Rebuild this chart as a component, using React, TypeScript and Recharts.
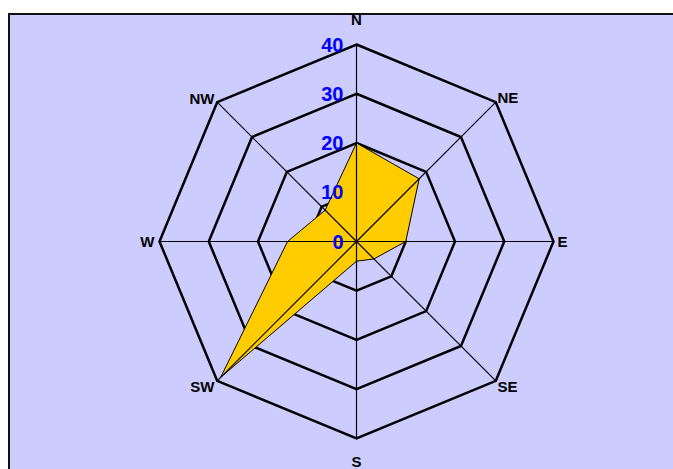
import { RadarChart, Radar, PolarGrid, PolarAngleAxis, PolarRadiusAxis } from 'recharts';

const directions = ['N', 'NE', 'E', 'SE', 'S', 'SW', 'W', 'NW'];
const frequency = [20, 18, 10, 5, 4, 39, 14, 9];
const radiusTicks = [0, 10, 20, 30, 40];

const data = directions.map((d, i) => ({ dir: d, value: frequency[i] }));

const FONT = '"Liberation Sans", Arial, sans-serif';

function AngleTick(props: any) {
  const { x, y, cx, cy, payload } = props;
  const dx = x - cx;
  const dy = y - cy;
  let tx = x;
  let ty = y;
  let anchor: 'start' | 'middle' | 'end' = 'middle';
  if (Math.abs(dx) < 1) {
    ty = dy < 0 ? y - 17 : y + 15;
  } else if (dx > 0) {
    anchor = 'start';
    tx = x - 4;
    ty = dy < -1 ? y + 1 : y;
  } else {
    anchor = 'end';
    tx = x + 3;
    ty = dy < -1 ? y + 2 : y;
  }
  return (
    <text
      x={tx}
      y={ty}
      textAnchor={anchor}
      dominantBaseline="central"
      fontFamily={FONT}
      fontWeight="bold"
      fontSize={15}
      fill="#000"
    >
      {payload.value}
    </text>
  );
}

function RadiusTick(props: any) {
  const { x, y, payload } = props;
  return (
    <text
      x={x - 13}
      y={y}
      textAnchor="end"
      dominantBaseline="central"
      fontFamily={FONT}
      fontWeight="bold"
      fontSize={20}
      fill="#0000FF"
    >
      {payload.value}
    </text>
  );
}

export default function App() {
  return (
    <div style={{ position: 'absolute', left: 0, top: 0, width: 673, height: 469, overflow: 'hidden', background: '#fff' }}>
      <div
        style={{
          position: 'absolute',
          left: 8,
          top: 13,
          width: 700,
          height: 500,
          background: '#CCCCFF',
          borderLeft: '2px solid #111',
          borderTop: '2px solid #111',
        }}
      />
      <div style={{ position: 'absolute', left: 0, top: 0 }}>
        <RadarChart
          width={673}
          height={469}
          data={data}
          cx={356.5}
          cy={241.5}
          outerRadius={197}
          startAngle={90}
          endAngle={-270}
          margin={{ top: 0, right: 0, bottom: 0, left: 0 }}
        >
          <PolarGrid gridType="polygon" radialLines={false} stroke="#000" strokeWidth={2.5} />
          <PolarAngleAxis dataKey="dir" tick={<AngleTick />} tickLine={false} axisLine={false} />
          <PolarRadiusAxis
            angle={90}
            domain={[0, 40]}
            ticks={radiusTicks as any}
            tickCount={5}
            axisLine={false}
            tick={<RadiusTick />}
            zIndex={2000}
          />
          <Radar
            dataKey="value"
            stroke="#000"
            strokeWidth={1}
            fill="#FFCC00"
            fillOpacity={1}
            dot={false}
            isAnimationActive={false}
          />
          <PolarGrid gridType="polygon" polarRadius={[]} stroke="#000" strokeWidth={1.2} zIndex={500} />
        </RadarChart>
      </div>
    </div>
  );
}
